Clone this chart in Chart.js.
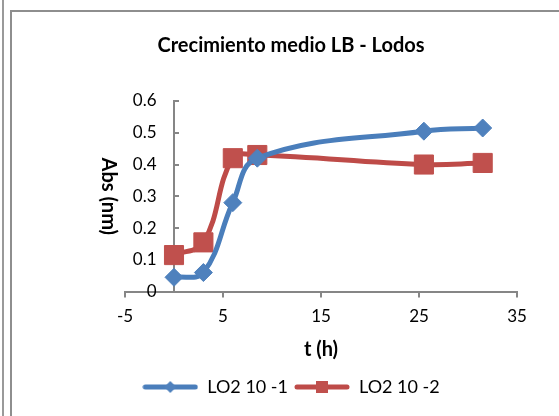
<!DOCTYPE html>
<html>
<head>
<meta charset="utf-8">
<script src="https://cdn.jsdelivr.net/npm/chart.js@4/dist/chart.umd.min.js"></script>
<style>
  body{margin:0;background:#fff;width:559px;height:416px;overflow:hidden;position:relative;}
  .sideLine{position:absolute;left:2px;top:0;width:2px;height:416px;background:#9a9a9a;}
  .frame{position:absolute;left:10px;top:10px;width:600px;height:460px;border:2px solid #8e8e8e;box-sizing:border-box;}
  #chartBox{position:absolute;left:0;top:0;width:559px;height:416px;}
</style>
</head>
<body>
<div class="sideLine"></div>
<div class="frame"></div>
<div id="chartBox"><canvas id="growth"></canvas></div>
<script>
// time (h) and absorbance
const tHours = [0, 3, 6, 8.5, 25.5, 31.5];
const lo2Dil1 = [0.045, 0.06, 0.28, 0.42, 0.505, 0.515];
const lo2Dil2 = [0.115, 0.155, 0.42, 0.43, 0.40, 0.405];
const seriesNames = ["LO2 10 -1", "LO2 10 -2"];
const xTicks = [-5, 5, 15, 25, 35];

const fontFam = "Lato, 'Liberation Sans', sans-serif";
const blue = "#4a7ebb", blueMark = "#4f81bd";
const red = "#be4b48", redMark = "#c0504d";
const axisGray = "#868686";

// legend symbol: line with marker in the middle, like excel
function legendIcon(lineCol, markCol, shape){
    let c = document.createElement("canvas");
    c.width = 56; c.height = 14;
    let ctx = c.getContext("2d");
    ctx.strokeStyle = lineCol;
    ctx.lineWidth = 5;
    ctx.lineCap = "round";
    ctx.beginPath(); ctx.moveTo(3,7); ctx.lineTo(53,7); ctx.stroke();
    ctx.fillStyle = markCol;
    if(shape=="diamond"){
        ctx.beginPath();
        ctx.moveTo(28,1); ctx.lineTo(34,7); ctx.lineTo(28,13); ctx.lineTo(22,7);
        ctx.closePath(); ctx.fill();
    }else{
        ctx.fillRect(22,1,12,12);
    }
    return c;
}
const icons = [legendIcon(blue, blueMark, "diamond"), legendIcon(red, redMark, "square")];

const toPts = (ys) => tHours.map((t,i)=>({x:t, y:ys[i]}));

new Chart(document.getElementById("growth"), {
    type: "scatter",
    data: {
        datasets: [{
            label: seriesNames[0],
            data: toPts(lo2Dil1),
            showLine: true,
            borderColor: blue,
            borderWidth: 5,
            tension: 0.4,
            pointStyle: "rectRot",
            pointRadius: 9,
            pointBackgroundColor: blueMark,
            pointBorderColor: blueMark,
            pointBorderWidth: 1
        },{
            label: seriesNames[1],
            data: toPts(lo2Dil2),
            showLine: true,
            borderColor: red,
            borderWidth: 5,
            tension: 0.4,
            pointStyle: "rect",
            pointRadius: 13.5,
            pointBackgroundColor: redMark,
            pointBorderColor: redMark,
            pointBorderWidth: 1
        }]
    },
    options: {
        responsive: true,
        maintainAspectRatio: false,
        animation: false,
        layout: {padding: {left: 65, right: 42, top: 0, bottom: 10}},
        scales: {
            x: {
                type: "linear",
                min: -5, max: 35,
                afterBuildTicks: (axis) => { axis.ticks = xTicks.map(v=>({value:v})); },
                grid: {drawOnChartArea: false, drawTicks: true, tickLength: 6, color: axisGray, lineWidth: 2},
                border: {color: axisGray, width: 2},
                ticks: {color: "#000", font: {family: fontFam, size: 17}, padding: 9},
                title: {display: true, text: "t (h)", color: "#000", font: {family: fontFam, size: 20, weight: "bold"}, padding: {top: 2, bottom: 10}}
            },
            y: {
                position: {x: 0},
                min: 0, max: 0.6,
                ticks: {stepSize: 0.1, color: "#000", font: {family: fontFam, size: 17},
                    callback: (v) => Number(v.toFixed(1)).toString() + "    "},
                grid: {drawOnChartArea: false, drawTicks: true, tickLength: -6, color: axisGray, lineWidth: 2},
                border: {color: axisGray, width: 2},
                title: {display: true, text: "Abs (nm)", color: "#000", font: {family: fontFam, size: 20, weight: "bold"}, padding: {top: 12, bottom: 4}}
            },
            // empty box on the left so the plot sits where the excel one does
            spacer: {
                type: "linear",
                position: "left",
                display: true,
                grid: {display: false},
                border: {display: false},
                ticks: {display: false},
                afterFit: (s) => { s.width = 60; }
            }
        },
        plugins: {
            title: {
                display: true,
                text: "Crecimiento medio LB - Lodos",
                color: "#000",
                font: {family: fontFam, size: 20, weight: "bold"},
                padding: {top: 34, bottom: 43}
            },
            legend: {
                position: "bottom",
                labels: {
                    usePointStyle: true,
                    pointStyleWidth: 56,
                    boxHeight: 14,
                    padding: 6,
                    color: "#000",
                    font: {family: fontFam, size: 18},
                    generateLabels: (chart) => chart.data.datasets.map((ds,i)=>({
                        text: ds.label,
                        pointStyle: icons[i],
                        fontColor: "#000",
                        strokeStyle: "transparent",
                        fillStyle: "transparent",
                        lineWidth: 0,
                        datasetIndex: i
                    }))
                }
            },
            tooltip: {enabled: false}
        }
    }
});
</script>
</body>
</html>
